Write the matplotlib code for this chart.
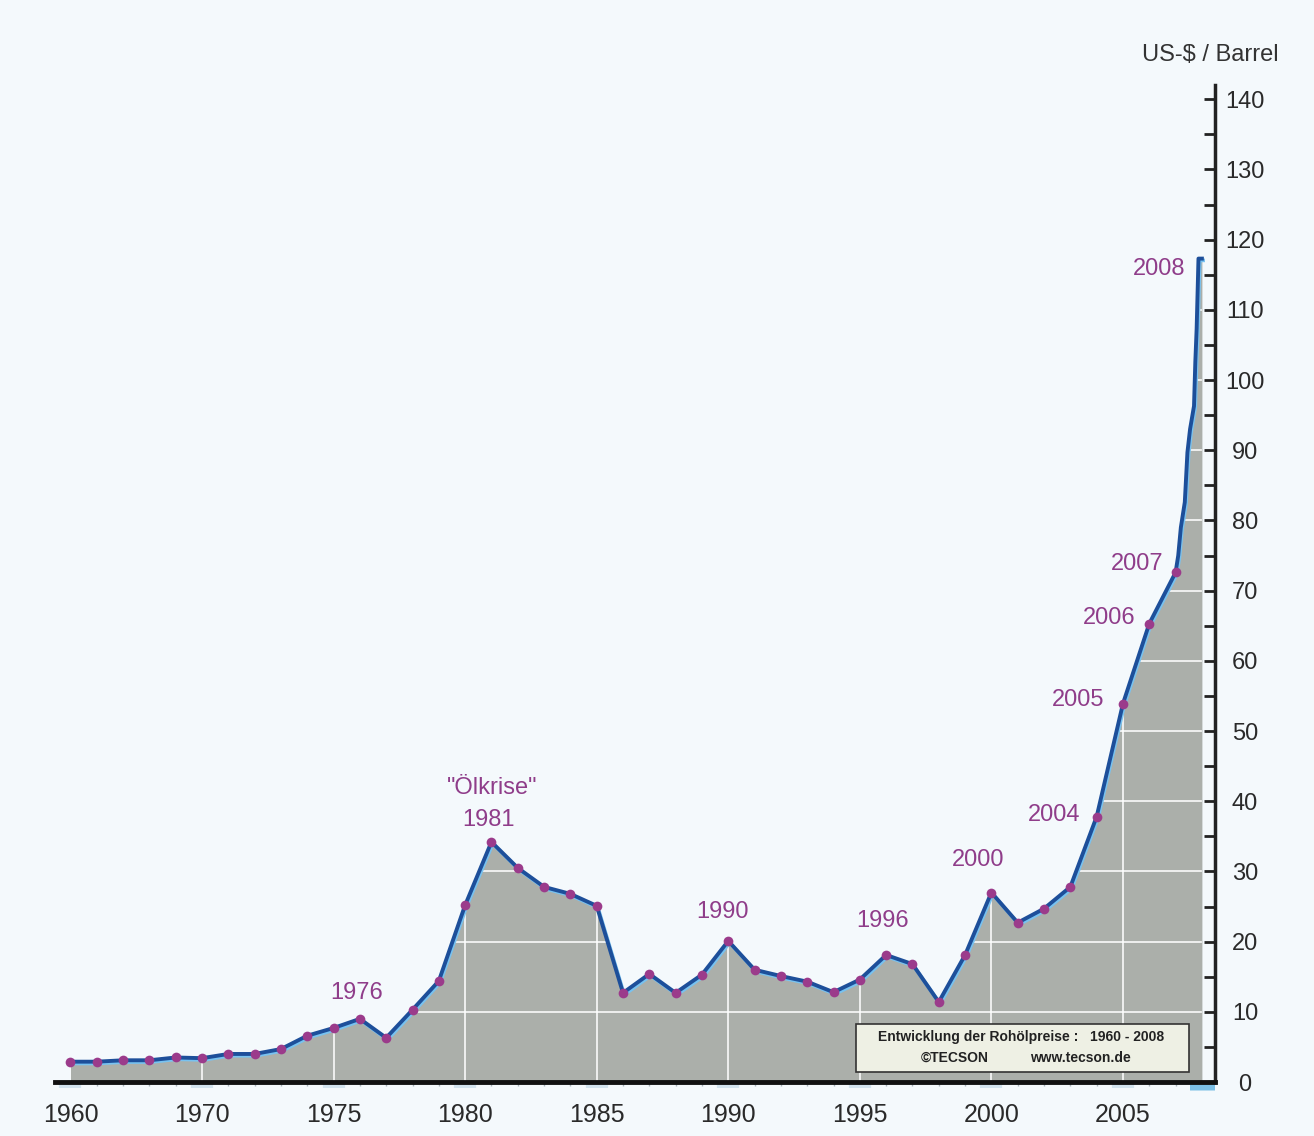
import numpy as np
import matplotlib
matplotlib.use('Agg')
from matplotlib import pyplot as plt
import matplotlib.patheffects as pe
from matplotlib.patches import Rectangle

# Rohölpreise (US-$ / Barrel), Jahreswerte
years = [1960, 1962, 1964, 1966, 1968, 1970, 1971, 1972, 1973, 1974, 1975, 1976,
         1977, 1978, 1979, 1980, 1981, 1982, 1983, 1984, 1985, 1986, 1987, 1988,
         1989, 1990, 1991, 1992, 1993, 1994, 1995, 1996, 1997, 1998, 1999, 2000,
         2001, 2002, 2003, 2004, 2005, 2006, 2007]
prices = [2.9, 2.9, 3.1, 3.1, 3.5, 3.4, 4.0, 4.0, 4.7, 6.6, 7.7, 9.0,
          6.3, 10.3, 14.4, 25.2, 34.2, 30.5, 27.8, 26.8, 25.1, 12.7, 15.4, 12.7,
          15.3, 20.1, 16.0, 15.1, 14.3, 12.8, 14.6, 18.1, 16.8, 11.4, 18.1, 27.0,
          22.7, 24.7, 27.8, 37.8, 53.9, 65.3, 72.6]

# Verlauf 2007/2008 (ohne Punkte)
x_2008 = [2007.1, 2007.2, 2007.35, 2007.45, 2007.55, 2007.7, 2007.75, 2007.8, 2007.87, 2008.0]
p_2008 = [75.0, 79.0, 82.6, 89.7, 93.0, 96.3, 102.6, 107.3, 117.3, 117.3]

tick_years = [1960, 1970, 1975, 1980, 1985, 1990, 1995, 2000, 2005]
label_years = [1976, 1981, 1990, 1996, 2000, 2004, 2005, 2006, 2007]

plt.rcParams['font.family'] = ['Liberation Sans', 'DejaVu Sans']

bg = '#f4f9fc'
purple = '#8f3d8a'


# 1960er Jahre gestaucht (2 Jahre pro Schritt)
def fwd(y):
    y = np.asarray(y, dtype=float)
    return np.where(y <= 1970, (y - 1960) / 2.0, y - 1965.0)


def inv(p):
    p = np.asarray(p, dtype=float)
    return np.where(p <= 5, 1960 + 2 * p, p + 1965.0)


fig = plt.figure(figsize=(13.14, 11.36), dpi=100, facecolor=bg)
ax = fig.add_axes([0.0419, 0.0475, 0.8828, 0.8775], facecolor=bg)
ax.set_xscale('function', functions=(fwd, inv))

x_all = list(years) + x_2008
p_all = list(prices) + p_2008

area = ax.fill_between(x_all, p_all, 0, color='#abafaa', lw=0, zorder=1)
ax.plot(x_all, p_all, color='#1d4f9a', lw=2.8, zorder=4, solid_joinstyle='round',
        path_effects=[pe.Stroke(linewidth=2.6, foreground='#78c2f0', offset=(0.9, -1.3)),
                      pe.Normal()])
ax.plot(years, prices, 'o', color='#9b3b8b', ms=7, mec='none', zorder=5)

# Gitter nur innerhalb der Fläche sichtbar
clip = area.get_paths()[0]
for v in range(10, 141, 10):
    gl = ax.axhline(v, color='white', lw=1.4, alpha=0.8, zorder=2)
    gl.set_clip_path(clip, area.get_transform())
for t in tick_years:
    gl = ax.axvline(t, color='white', lw=1.4, alpha=0.8, zorder=2)
    gl.set_clip_path(clip, area.get_transform())

# Beschriftungen der Jahrespunkte
offsets = {1976: (-3, 26, 'center'), 1981: (-3, 22, 'center'), 1990: (-6, 29, 'center'),
           1996: (-4, 34, 'center'), 2000: (-13, 33, 'center'), 2004: (-16, 2, 'right'),
           2005: (-19, 4, 'right'), 2006: (-14, 6, 'right'), 2007: (-12, 8, 'right')}
for y in label_years:
    dx, dy, ha = offsets[y]
    v = prices[years.index(y)]
    ax.annotate(str(y), (y, v), xytext=(dx, dy), textcoords='offset pixels',
                ha=ha, va='center', fontsize=17, color=purple, zorder=6)
ax.annotate('"Ölkrise"', (1981, prices[years.index(1981)]), xytext=(1, 54),
            textcoords='offset pixels', ha='center', va='center', fontsize=17,
            color=purple, zorder=6)
ax.annotate('2008', (x_2008[-2], p_2008[-2]), xytext=(-13, -10),
            textcoords='offset pixels', ha='right', va='center', fontsize=17,
            color=purple, zorder=6)

# Achsen
ax.set_xlim(1958.83, 2008.5)
ax.set_ylim(0, 142)
for s in ['top', 'left']:
    ax.spines[s].set_visible(False)
ax.spines['bottom'].set_linewidth(3.5)
ax.spines['right'].set_linewidth(2.5)
ax.spines['bottom'].set_color('#111111')
ax.spines['right'].set_color('#222222')
ax.spines['bottom'].set_zorder(6)

ax.yaxis.tick_right()
ax.set_yticks(np.arange(0, 141, 10))
ax.set_yticks(np.arange(5, 141, 10), minor=True)
ax.tick_params(axis='y', which='both', direction='in', length=8, width=2,
               color='#222222', labelsize=17, labelcolor='#2a2a2a', pad=21.6)
plt.setp(ax.yaxis.get_majorticklabels(), ha='center')

ax.set_xticks(tick_years + [2008])
ax.set_xticklabels([str(t) for t in tick_years] + [''])
ax.set_xticks([1962, 1964, 1966, 1968] + list(range(1971, 2008)), minor=True)
ax.tick_params(axis='x', which='major', direction='out', length=4, width=16,
               color='#d2e3ee', labelsize=18, labelcolor='#2a2a2a', pad=11)
ax.tick_params(axis='x', which='minor', direction='out', length=3, width=1,
               color='#a8b4bc')
last = ax.xaxis.get_major_ticks()[-1]
last.tick1line.set_markeredgecolor('#7cc0e6')
last.tick1line.set_markeredgewidth(18)
last.tick1line.set_markersize(6)

# Quellen-Kasten
ax.add_patch(Rectangle((0.6905, 0.0100), 0.2871, 0.0482, transform=ax.transAxes,
                       facecolor='#eef0e4', edgecolor='#333333', lw=1.2, zorder=7))
ax.text(0.8328, 0.0451, 'Entwicklung der Rohölpreise :   1960 - 2008',
        transform=ax.transAxes, ha='center', va='center', fontsize=10,
        fontweight='bold', color='#222222', zorder=8)
ax.text(0.7759, 0.0241, '©TECSON', transform=ax.transAxes, ha='center', va='center',
        fontsize=10, fontweight='bold', color='#222222', zorder=8)
ax.text(0.8836, 0.0241, 'www.tecson.de', transform=ax.transAxes, ha='center',
        va='center', fontsize=10, fontweight='bold', color='#222222', zorder=8)

fig.text(1210 / 1314, 1 - 55 / 1136, 'US-$ / Barrel', ha='center', va='center',
         fontsize=17, color='#333333')

plt.savefig('out.png', dpi=100, facecolor=bg)
